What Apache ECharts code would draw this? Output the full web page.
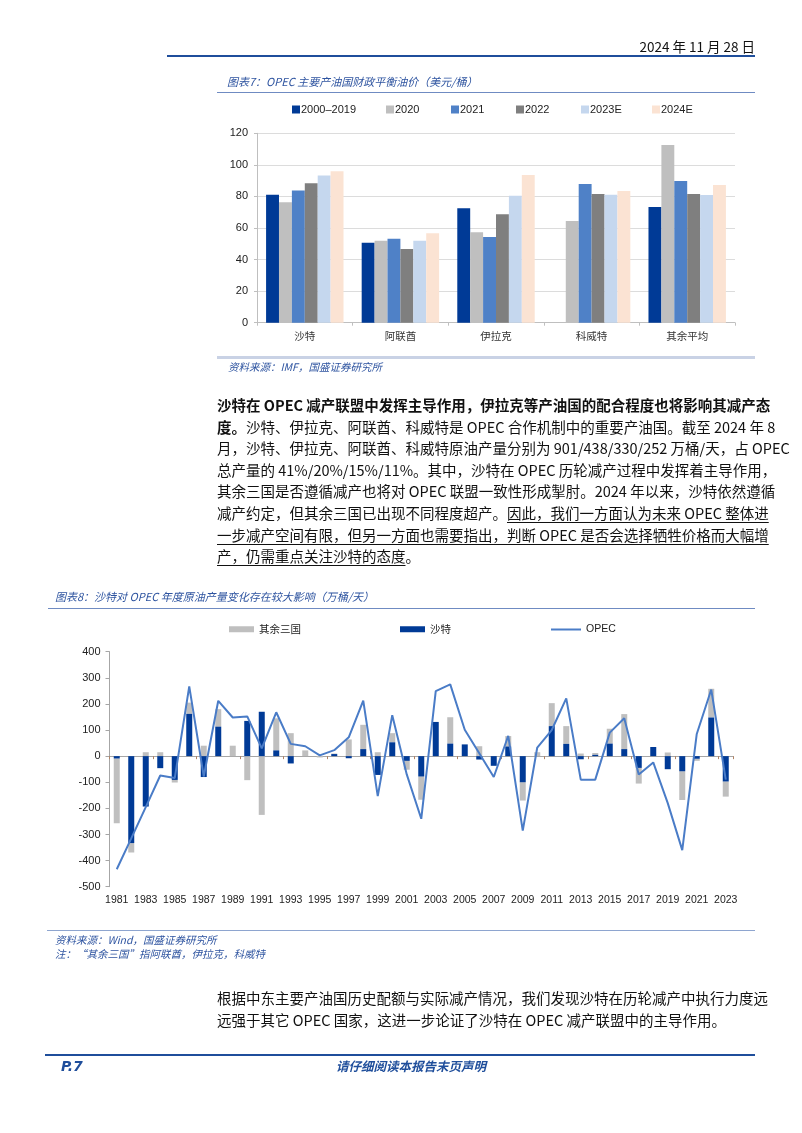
<!DOCTYPE html>
<html>
<head>
<meta charset="utf-8">
<script src="https://cdn.jsdelivr.net/npm/echarts@6/dist/echarts.min.js"></script>
<style>
html,body{margin:0;padding:0;background:#fff;}
body{width:802px;height:1133px;position:relative;overflow:hidden;font-family:"Noto Sans CJK SC",sans-serif;}
#chart{position:absolute;left:0;top:0;width:802px;height:1133px;}
.abs{position:absolute;white-space:nowrap;}
.hline{position:absolute;height:0;}
.ttl{font-style:italic;color:#2E54A0;font-size:11px;line-height:13px;}
.src{font-style:italic;color:#2E54A0;font-size:10.5px;line-height:13px;}
.para{position:absolute;left:217px;width:538px;font-size:14.5px;color:#111;}
.para div{height:21.6px;line-height:21.6px;text-align:justify;text-align-last:justify;white-space:nowrap;overflow:visible;}
.para div.last{text-align-last:left;}
.u{text-decoration:underline;text-underline-offset:3px;text-decoration-thickness:1px;}
b{font-weight:700;}
</style>
</head>
<body>
<div id="chart"></div>

<!-- header -->
<div class="abs" style="right:47px;top:37px;font-size:13.5px;line-height:18px;color:#111;">2024 年 11 月 28 日</div>
<div class="hline" style="left:167px;width:588px;top:55px;border-top:2px solid #1F4E9B;"></div>

<!-- chart 7 title / source -->
<div class="abs ttl" style="left:227px;top:75px;">图表7：OPEC 主要产油国财政平衡油价（美元/桶）</div>
<div class="hline" style="left:217px;width:538px;top:92px;border-top:1px solid #6F8BC2;"></div>
<div class="hline" style="left:217px;width:538px;top:356px;border-top:3px solid #C9D2E5;"></div>
<div class="abs src" style="left:228px;top:360px;">资料来源：IMF，国盛证券研究所</div>

<!-- paragraph 1 -->
<div class="para" style="top:394px;">
<div><b>沙特在 OPEC 减产联盟中发挥主导作用，伊拉克等产油国的配合程度也将影响其减产态</b></div>
<div><b>度。</b>沙特、伊拉克、阿联酋、科威特是 OPEC 合作机制中的重要产油国。截至 2024 年 8</div>
<div>月，沙特、伊拉克、阿联酋、科威特原油产量分别为 901/438/330/252 万桶/天，占 OPEC</div>
<div>总产量的 41%/20%/15%/11%。其中，沙特在 OPEC 历轮减产过程中发挥着主导作用，</div>
<div>其余三国是否遵循减产也将对 OPEC 联盟一致性形成掣肘。2024 年以来，沙特依然遵循</div>
<div>减产约定，但其余三国已出现不同程度超产。<span class="u">因此，我们一方面认为未来 OPEC 整体进</span></div>
<div><span class="u">一步减产空间有限，但另一方面也需要指出，判断 OPEC 是否会选择牺牲价格而大幅增</span></div>
<div class="last"><span class="u">产，仍需重点关注沙特的态度</span>。</div>
</div>

<!-- chart 8 title / source -->
<div class="abs ttl" style="left:55px;top:590px;">图表8：沙特对 OPEC 年度原油产量变化存在较大影响（万桶/天）</div>
<div class="hline" style="left:48px;width:707px;top:608px;border-top:1px solid #6F8BC2;"></div>
<div class="hline" style="left:47px;width:708px;top:930px;border-top:1px solid #8EA5CF;"></div>
<div class="abs src" style="left:55px;top:933px;">资料来源：Wind，国盛证券研究所</div>
<div class="abs src" style="left:55px;top:947px;">注：“其余三国”指阿联酋，伊拉克，科威特</div>

<!-- paragraph 2 -->
<div class="para" style="top:987px;">
<div>根据中东主要产油国历史配额与实际减产情况，我们发现沙特在历轮减产中执行力度远</div>
<div class="last">远强于其它 OPEC 国家，这进一步论证了沙特在 OPEC 减产联盟中的主导作用。</div>
</div>

<!-- footer -->
<div class="hline" style="left:45px;width:710px;top:1054px;border-top:2px solid #1F4E9B;"></div>
<div class="abs" style="left:61px;top:1057px;font-size:14px;line-height:18px;font-weight:700;font-style:italic;color:#1F4E9B;font-family:'DejaVu Sans',sans-serif;">P.7</div>
<div class="abs" style="left:336px;top:1057px;width:144px;text-align:center;font-size:12.5px;line-height:18px;font-weight:700;font-style:italic;color:#1F4E9B;">请仔细阅读本报告末页声明</div>

<script>
// ---------- Chart 7 data ----------
const countries = ['沙特', '阿联酋', '伊拉克', '科威特', '其余平均'];
const v2000_2019 = [81.0, 50.7, 72.5, null, 73.3];
const v2020 = [76.3, 52.0, 57.3, 64.4, 112.6];
const v2021 = [83.7, 53.2, 54.3, 87.9, 89.8];
const v2022 = [88.3, 46.7, 68.7, 81.6, 81.6];
const v2023E = [93.2, 52.0, 80.5, 81.1, 80.9];
const v2024E = [95.9, 56.6, 93.6, 83.5, 87.3];
const names7 = ['2000–2019', '2020', '2021', '2022', '2023E', '2024E'];

// ---------- Chart 8 data ----------
const years = ['1981','1982','1983','1984','1985','1986','1987','1988','1989','1990',
  '1991','1992','1993','1994','1995','1996','1997','1998','1999','2000',
  '2001','2002','2003','2004','2005','2006','2007','2008','2009','2010',
  '2011','2012','2013','2014','2015','2016','2017','2018','2019','2020',
  '2021','2022','2023'];
const saudi = [-9,-333,-193,-46,-91,162,-80,113,0,135,
  170,22,-28,0,0,8,-8,27,-72,53,
  -18,-78,131,48,45,-13,-37,37,-100,0,
  115,47,-12,5,48,27,-45,35,-50,-58,
  -10,148,-97];
const otherThree = [-248,-36,15,15,-10,43,40,67,40,-92,
  -225,123,88,22,-5,2,64,93,15,35,
  -34,-89,0,101,0,38,0,40,-70,15,
  88,68,10,7,57,134,-60,0,14,-110,
  -8,110,-58];
const opec = [-433,-315,-195,-74,-84,267,-78,212,148,152,
  30,168,47,38,3,23,72,213,-153,157,
  -70,-240,249,275,101,11,-80,78,-285,33,
  100,221,-90,-90,90,145,-70,-24,-180,-360,
  85,255,-90];

const colors7 = ['#003A96', '#BFBFBF', '#4F81C7', '#7F7F7F', '#C5D7EE', '#FBE3D3'];
const vals7 = [v2000_2019, v2020, v2021, v2022, v2023E, v2024E];
const legendX7 = [292, 386, 451, 516, 581, 652];

const numFont = 'Liberation Sans';
const cjkFont = 'Noto Sans CJK SC';

const chart = echarts.init(document.getElementById('chart'), null, {renderer: 'canvas'});

const legends = [];
names7.forEach((n, i) => {
  legends.push({
    data: [n], left: legendX7[i], top: 104, padding: 0,
    icon: 'rect', itemWidth: 8, itemHeight: 8, itemGap: 0,
    textStyle: {fontFamily: numFont, fontSize: 11, color: '#222', padding: [0, 0, 0, -4]},
    selectedMode: false
  });
});
legends.push({data: ['其余三国'], left: 229, top: 624, padding: 0, icon: 'rect', itemWidth: 25, itemHeight: 6,
  textStyle: {fontFamily: cjkFont, fontSize: 10.5, color: '#222'}, selectedMode: false});
legends.push({data: ['沙特'], left: 400, top: 624, padding: 0, icon: 'rect', itemWidth: 25, itemHeight: 6,
  textStyle: {fontFamily: cjkFont, fontSize: 10.5, color: '#222'}, selectedMode: false});
legends.push({data: [{name: 'OPEC', icon: 'rect', itemStyle: {color: '#4A7CC7'}}], left: 551, top: 624, padding: 0, itemWidth: 30, itemHeight: 2,
  textStyle: {fontFamily: numFont, fontSize: 10.5, color: '#222'}, selectedMode: false});

const series = [];
names7.forEach((n, i) => {
  series.push({
    name: n, type: 'bar', xAxisIndex: 0, yAxisIndex: 0,
    data: vals7[i], barGap: '0%', barCategoryGap: '19%',
    itemStyle: {color: colors7[i]}, animation: false
  });
});
series.push({
  name: '沙特', type: 'bar', xAxisIndex: 1, yAxisIndex: 1, stack: 'prod',
  data: saudi, barWidth: 6, itemStyle: {color: '#003A96'}, animation: false, z: 3
});
series.push({
  name: '其余三国', type: 'bar', xAxisIndex: 1, yAxisIndex: 1, stack: 'prod',
  data: otherThree, barWidth: 6, itemStyle: {color: '#BFBFBF'}, animation: false, z: 2
});
series.push({
  name: 'OPEC', type: 'line', xAxisIndex: 1, yAxisIndex: 1,
  data: opec, symbol: 'none', lineStyle: {color: '#4A7CC7', width: 2}, itemStyle: {color: '#4A7CC7'},
  animation: false, z: 5
});

chart.setOption({
  backgroundColor: 'transparent',
  animation: false,
  legend: legends,
  grid: [
    {left: 257, top: 133.3, width: 478, height: 189.4},
    {left: 109.5, top: 651.7, width: 623.5, height: 235}
  ],
  xAxis: [
    {
      type: 'category', gridIndex: 0, data: countries,
      axisLine: {lineStyle: {color: '#BFBFBF'}},
      axisTick: {show: true, length: 3, lineStyle: {color: '#BFBFBF'}},
      axisLabel: {fontFamily: cjkFont, fontSize: 10.5, color: '#333', margin: 8}
    },
    {
      type: 'category', gridIndex: 1, data: years, position: 'bottom',
      axisLine: {show: false, onZero: false},
      axisTick: {show: false},
      axisLabel: {interval: 1, fontFamily: numFont, fontSize: 10.5, color: '#222', margin: 8}
    },
    {
      type: 'category', gridIndex: 1, data: years, position: 'top',
      axisLine: {show: true, onZero: true, lineStyle: {color: '#A6A6A6'}},
      axisTick: {show: true, inside: true, length: 3, lineStyle: {color: '#B08466'}},
      axisLabel: {show: false}
    }
  ],
  yAxis: [
    {
      type: 'value', gridIndex: 0, min: 0, max: 120, interval: 20,
      axisLine: {show: true, lineStyle: {color: '#BFBFBF'}},
      axisTick: {show: true, length: 3, lineStyle: {color: '#BFBFBF'}},
      splitLine: {show: true, lineStyle: {color: '#DCDCDC'}},
      axisLabel: {fontFamily: numFont, fontSize: 11, color: '#222', margin: 9}
    },
    {
      type: 'value', gridIndex: 1, min: -500, max: 400, interval: 100,
      axisLine: {show: true, lineStyle: {color: '#A6A6A6'}},
      axisTick: {show: true, length: 4, lineStyle: {color: '#A6A6A6'}},
      splitLine: {show: false},
      axisLabel: {fontFamily: numFont, fontSize: 11, color: '#222', margin: 9}
    }
  ],
  series: series
});
</script>
</body>
</html>
